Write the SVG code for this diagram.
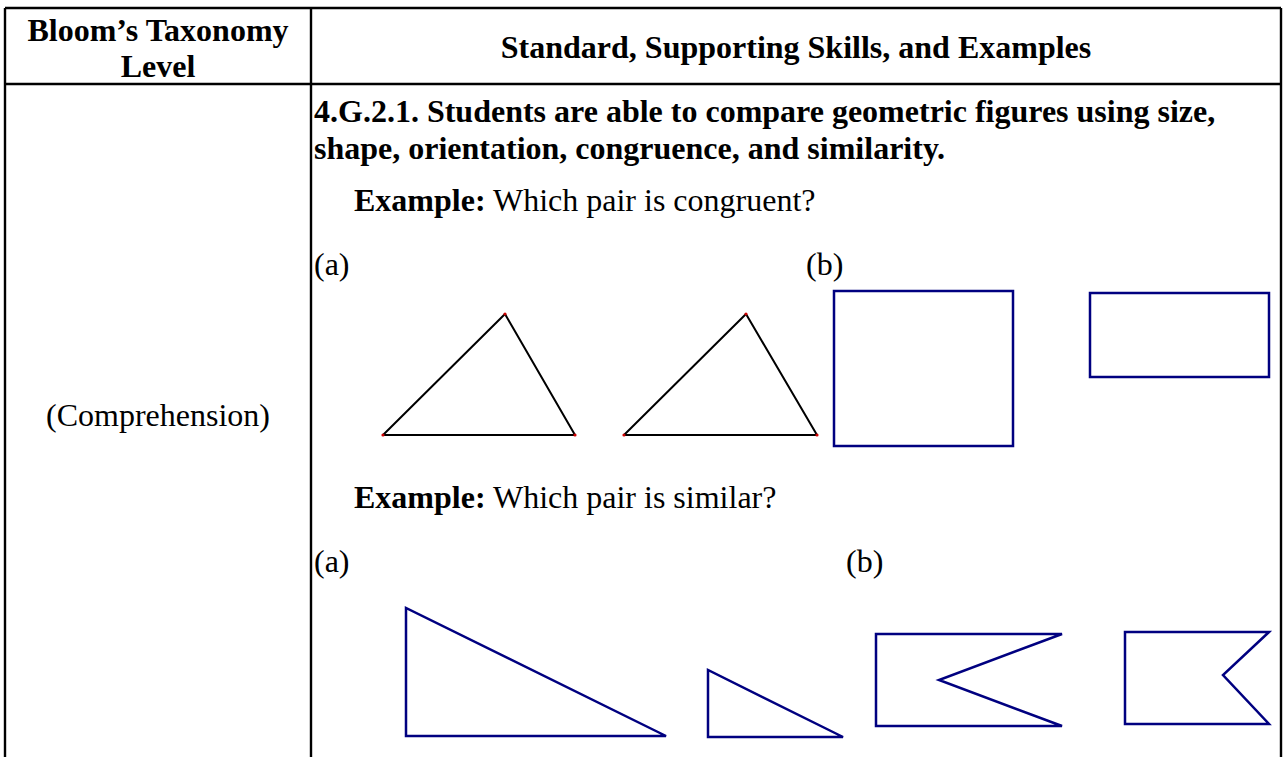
<svg xmlns="http://www.w3.org/2000/svg" width="1286" height="757" viewBox="0 0 1286 757">
<style>
.t{font-family:"Liberation Serif","Times New Roman",serif;font-size:32px;fill:#000}
.b{font-weight:bold}
.grid{stroke:#000;stroke-width:2.4;fill:none}
.blk{stroke:#000;stroke-width:2;fill:none;stroke-linejoin:round}
.nv{stroke:#000080;stroke-width:2.5;fill:none;stroke-linejoin:miter}
.dot{fill:#cc0000}
</style>
<rect width="1286" height="757" fill="#fff"/>
<g id="table">
<line class="grid" x1="5" y1="8" x2="1281" y2="8"/>
<line class="grid" x1="5" y1="8" x2="5" y2="757"/>
<line class="grid" x1="311" y1="8" x2="311" y2="757"/>
<line class="grid" x1="1281" y1="8" x2="1281" y2="757"/>
<line class="grid" x1="5" y1="84" x2="1281" y2="84"/>
</g>
<g id="header">
<text class="t b" x="158" y="41" text-anchor="middle">Bloom’s Taxonomy</text>
<text class="t b" x="158" y="77" text-anchor="middle">Level</text>
<text class="t b" x="796" y="58" text-anchor="middle">Standard, Supporting Skills, and Examples</text>
</g>
<g id="level">
<text class="t" x="158" y="426" text-anchor="middle">(Comprehension)</text>
</g>
<g id="standard">
<text class="t b" x="314" y="122">4.G.2.1. Students are able to compare geometric figures using size,</text>
<text class="t b" x="314" y="159">shape, orientation, congruence, and similarity.</text>
<text class="t" x="354" y="211"><tspan class="b">Example:</tspan> Which pair is congruent?</text>
<text class="t" x="314" y="275">(a)</text>
<text class="t" x="806" y="275">(b)</text>
<text class="t" x="354" y="508"><tspan class="b">Example:</tspan> Which pair is similar?</text>
<text class="t" x="314" y="572">(a)</text>
<text class="t" x="846" y="572">(b)</text>
</g>
<g id="congruent-triangles">
<polygon class="blk" points="383,435 505,314 575,435"/>
<polygon class="blk" points="624,435 746,314 817,435"/>
<circle class="dot" cx="383" cy="435" r="1.6"/>
<circle class="dot" cx="505" cy="314" r="1.6"/>
<circle class="dot" cx="575" cy="435" r="1.6"/>
<circle class="dot" cx="624" cy="435" r="1.6"/>
<circle class="dot" cx="746" cy="314" r="1.6"/>
<circle class="dot" cx="817" cy="435" r="1.6"/>
</g>
<g id="congruent-rects">
<rect class="nv" x="834" y="291" width="179" height="155"/>
<rect class="nv" x="1090" y="293" width="179" height="84"/>
</g>
<g id="similar-triangles">
<polygon class="nv" points="406,608 406,736 666,736"/>
<polygon class="nv" points="708,670 708,737 843,737"/>
</g>
<g id="similar-flags">
<polygon class="nv" points="876,634 1062,634 939,680 1062,726 876,726"/>
<polygon class="nv" points="1125,632 1269,632 1223,675 1269,724 1125,724"/>
</g>
</svg>
